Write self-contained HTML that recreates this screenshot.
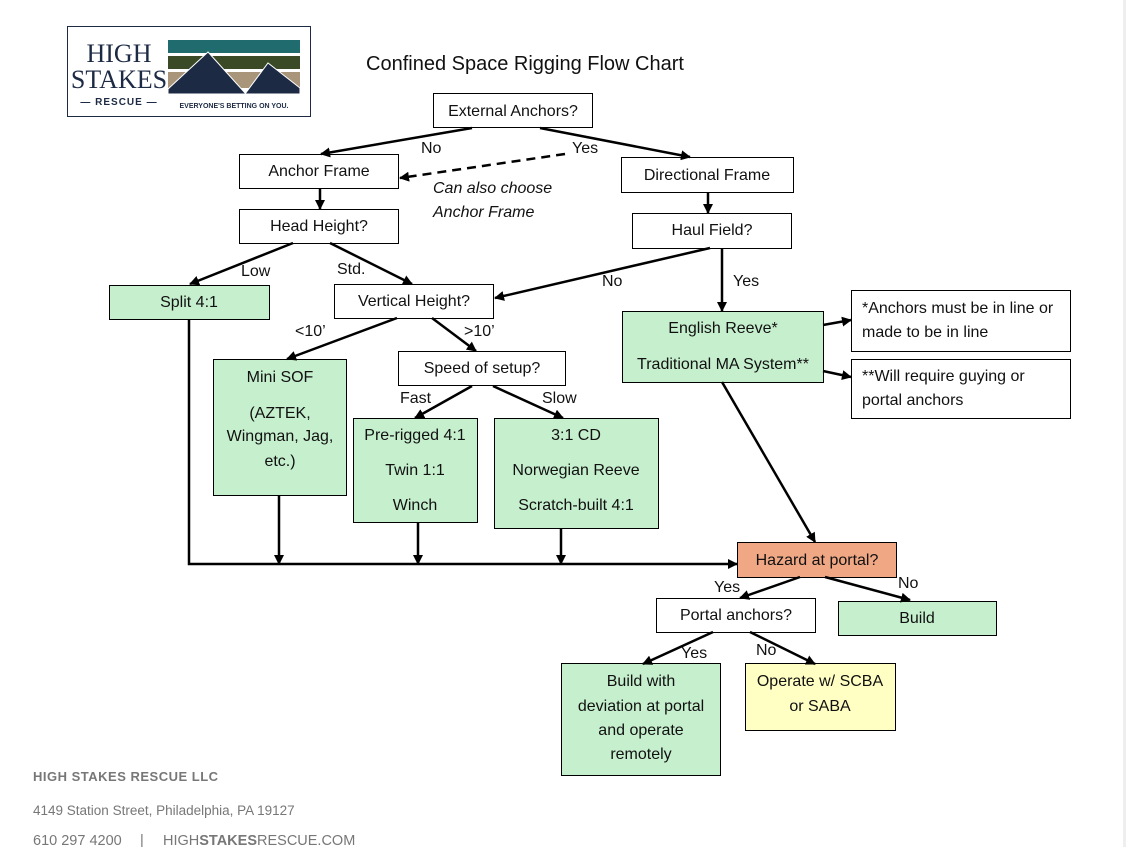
<!DOCTYPE html>
<html><head><meta charset="utf-8"><style>
html,body{margin:0;padding:0;background:#fff;}
body{width:1126px;height:847px;overflow:hidden;position:relative;}
svg{position:absolute;left:0;top:0;}
text{font-family:"Liberation Sans",sans-serif;font-size:16px;fill:#111;}
.c{text-anchor:middle;}
</style></head><body>
<svg width="1126" height="847" viewBox="0 0 1126 847">
<defs><marker id="a" markerWidth="10" markerHeight="10" refX="9" refY="5" orient="auto" markerUnits="userSpaceOnUse"><path d="M0,0 L10,5 L0,10 z" fill="#000"/></marker></defs>
<rect x="1123" y="0" width="3" height="847" fill="#eee"/>
<rect x="67.5" y="26.5" width="243" height="90" fill="#fff" stroke="#1d2a44" stroke-width="1"/>
<text x="119" y="62" class="c" style="font-family:'Liberation Serif',serif;font-size:26px;fill:#1d2a44">HIGH</text>
<text x="119" y="88" class="c" style="font-family:'Liberation Serif',serif;font-size:26px;fill:#1d2a44">STAKES</text>
<text x="119" y="105" class="c" style="font-size:10px;font-weight:bold;fill:#1d2a44;letter-spacing:1px">— RESCUE —</text>
<rect x="168" y="40" width="132" height="13" fill="#1f6b6e"/>
<rect x="168" y="56" width="132" height="13" fill="#3a4a26"/>
<rect x="168" y="72" width="132" height="16" fill="#a8957a"/>
<polygon points="168,89 208,52 246,94 168,94" fill="#1d2a44" stroke="#fff" stroke-width="1"/>
<polygon points="245,94 268,63 300,88 300,94" fill="#1d2a44" stroke="#fff" stroke-width="1"/>
<text x="234" y="108" class="c" style="font-size:7px;font-weight:bold;fill:#1d2a44">EVERYONE'S BETTING ON YOU.</text>
<text x="525" y="70" class="c" style="font-size:20px">Confined Space Rigging Flow Chart</text>
<g stroke="#000" stroke-width="1" fill="#fff">
<rect x="433.5" y="93.5" width="159" height="34"/>
<rect x="239.5" y="154.5" width="159" height="34"/>
<rect x="621.5" y="157.5" width="172" height="35"/>
<rect x="239.5" y="209.5" width="159" height="34"/>
<rect x="632.5" y="213.5" width="159" height="35"/>
<rect x="109.5" y="285.5" width="160" height="34" fill="#c6efce"/>
<rect x="334.5" y="284.5" width="159" height="34"/>
<rect x="622.5" y="311.5" width="201" height="71" fill="#c6efce"/>
<rect x="851.5" y="290.5" width="219" height="61"/>
<rect x="851.5" y="359.5" width="219" height="59"/>
<rect x="213.5" y="359.5" width="133" height="136" fill="#c6efce"/>
<rect x="398.5" y="351.5" width="167" height="34"/>
<rect x="353.5" y="418.5" width="124" height="104" fill="#c6efce"/>
<rect x="494.5" y="418.5" width="164" height="110" fill="#c6efce"/>
<rect x="737.5" y="542.5" width="159" height="35" fill="#f0a784"/>
<rect x="656.5" y="598.5" width="159" height="34"/>
<rect x="838.5" y="601.5" width="158" height="34" fill="#c6efce"/>
<rect x="561.5" y="663.5" width="159" height="112" fill="#c6efce"/>
<rect x="745.5" y="663.5" width="150" height="67" fill="#ffffc4"/>
</g>
<g stroke="#000" stroke-width="2.5" fill="none" marker-end="url(#a)">
<line x1="472" y1="128" x2="321" y2="154"/>
<line x1="540" y1="128" x2="690" y2="157"/>
<line x1="320" y1="188" x2="320" y2="209"/>
<line x1="708" y1="192" x2="708" y2="213"/>
<line x1="293" y1="243" x2="190" y2="284"/>
<line x1="330" y1="243" x2="412" y2="284"/>
<line x1="710" y1="248" x2="495" y2="298"/>
<line x1="722" y1="248" x2="722" y2="311"/>
<line x1="823" y1="325" x2="851" y2="320"/>
<line x1="823" y1="371" x2="851" y2="377"/>
<line x1="722" y1="382" x2="815" y2="542"/>
<line x1="397" y1="318" x2="287" y2="359"/>
<line x1="432" y1="318" x2="476" y2="351"/>
<line x1="472" y1="386" x2="415" y2="418"/>
<line x1="493" y1="386" x2="563" y2="418"/>
<line x1="279" y1="495" x2="279" y2="564"/>
<line x1="418" y1="522" x2="418" y2="564"/>
<line x1="561" y1="528" x2="561" y2="564"/>
<polyline points="189,319 189,564 737,564"/>
<line x1="800" y1="577" x2="740" y2="598"/>
<line x1="825" y1="577" x2="910" y2="600"/>
<line x1="713" y1="632" x2="643" y2="664"/>
<line x1="750" y1="632" x2="815" y2="664"/>
<line x1="565" y1="154" x2="400" y2="178" stroke-dasharray="9,6"/>
</g>
<text x="513" y="116" class="c">External Anchors?</text>
<text x="319" y="176" class="c">Anchor Frame</text>
<text x="707" y="180" class="c">Directional Frame</text>
<text x="319" y="231" class="c">Head Height?</text>
<text x="712" y="235" class="c">Haul Field?</text>
<text x="189" y="307" class="c">Split 4:1</text>
<text x="414" y="306" class="c">Vertical Height?</text>
<text x="723" y="333" class="c">English Reeve*</text>
<text x="723" y="369" class="c">Traditional MA System**</text>
<text x="862" y="313">*Anchors must be in line or</text>
<text x="862" y="337">made to be in line</text>
<text x="862" y="381">**Will require guying or</text>
<text x="862" y="405">portal anchors</text>
<text x="280" y="382" class="c">Mini SOF</text>
<text x="280" y="418" class="c">(AZTEK,</text>
<text x="280" y="441" class="c">Wingman, Jag,</text>
<text x="280" y="466" class="c">etc.)</text>
<text x="482" y="373" class="c">Speed of setup?</text>
<text x="415" y="440" class="c">Pre-rigged 4:1</text>
<text x="415" y="475" class="c">Twin 1:1</text>
<text x="415" y="510" class="c">Winch</text>
<text x="576" y="440" class="c">3:1 CD</text>
<text x="576" y="475" class="c">Norwegian Reeve</text>
<text x="576" y="510" class="c">Scratch-built 4:1</text>
<text x="817" y="565" class="c">Hazard at portal?</text>
<text x="736" y="620" class="c">Portal anchors?</text>
<text x="917" y="623" class="c">Build</text>
<text x="641" y="686" class="c">Build with</text>
<text x="641" y="711" class="c">deviation at portal</text>
<text x="641" y="735" class="c">and operate</text>
<text x="641" y="759" class="c">remotely</text>
<text x="820" y="686" class="c">Operate w/ SCBA</text>
<text x="820" y="711" class="c">or SABA</text>
<text x="421" y="153">No</text>
<text x="572" y="153">Yes</text>
<text x="433" y="193" style="font-style:italic">Can also choose</text>
<text x="433" y="217" style="font-style:italic">Anchor Frame</text>
<text x="241" y="276">Low</text>
<text x="337" y="274">Std.</text>
<text x="602" y="286">No</text>
<text x="733" y="286">Yes</text>
<text x="295" y="336">&lt;10’</text>
<text x="464" y="336">&gt;10’</text>
<text x="400" y="403">Fast</text>
<text x="542" y="403">Slow</text>
<text x="714" y="592">Yes</text>
<text x="898" y="588">No</text>
<text x="681" y="658">Yes</text>
<text x="756" y="655">No</text>
<text x="33" y="781" style="font-size:13px;font-weight:bold;fill:#777;letter-spacing:0.5px">HIGH STAKES RESCUE LLC</text>
<text x="33" y="815" style="font-size:13.5px;fill:#777">4149 Station Street, Philadelphia, PA 19127</text>
<text x="33" y="845" style="font-size:14.5px;fill:#777">610 297 4200</text>
<text x="140" y="845" style="font-size:14.5px;fill:#777">|</text>
<text x="163" y="845" style="font-size:14.5px;fill:#777">HIGH<tspan font-weight="bold">STAKES</tspan>RESCUE.COM</text>
</svg>
</body></html>
